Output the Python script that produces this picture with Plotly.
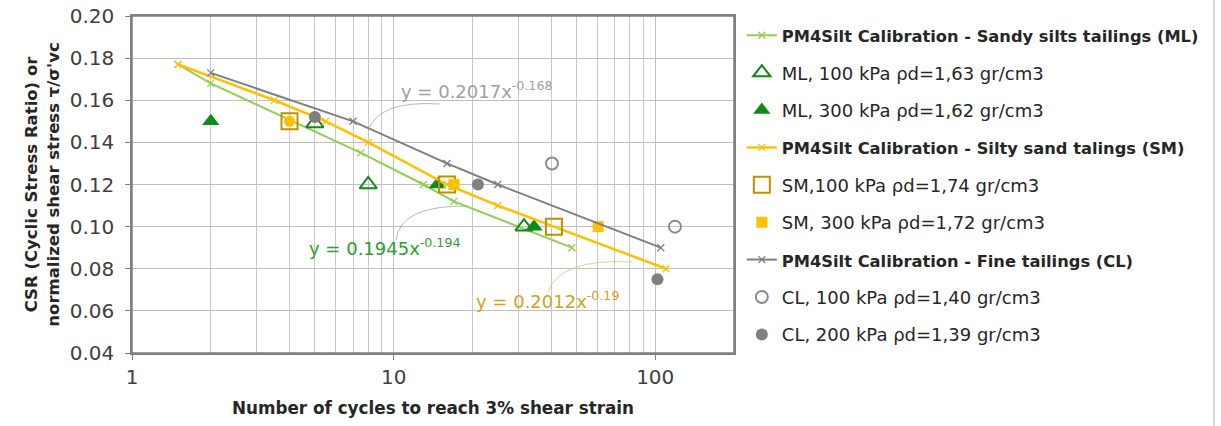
import plotly.graph_objects as go

# ---------------- data ----------------
ml_cal_x = [1.5, 2, 7.5, 13, 17, 48]
ml_cal_y = [0.177, 0.168, 0.135, 0.120, 0.112, 0.090]

sm_cal_x = [1.5, 3.5, 5.5, 8, 16, 25, 110]
sm_cal_y = [0.177, 0.160, 0.150, 0.140, 0.120, 0.110, 0.080]

cl_cal_x = [2, 7, 16, 25, 105]
cl_cal_y = [0.173, 0.150, 0.130, 0.120, 0.090]

ml100_x = [5, 8, 31.5]
ml100_y = [0.149, 0.120, 0.100]

ml300_x = [2, 14.7, 34.4]
ml300_y = [0.150, 0.120, 0.100]

sm100_x = [4, 16, 41]
sm100_y = [0.150, 0.120, 0.100]

sm300_x = [17, 60.5, 4]
sm300_y = [0.120, 0.100, 0.150]
sm300_symbols = ["square", "square", "circle"]

cl100_x = [40.3, 119]
cl100_y = [0.130, 0.100]

cl200_x = [5, 21, 102]
cl200_y = [0.152, 0.120, 0.075]

x_major = [1, 10, 100]
x_minor = [2, 3, 4, 5, 6, 7, 8, 9, 20, 30, 40, 50, 60, 70, 80, 90]
y_ticks = [0.04, 0.06, 0.08, 0.10, 0.12, 0.14, 0.16, 0.18, 0.20]

FONT = "DejaVu Sans"
GREEN_L = "#92D050"
GREEN_D = "#0E8A16"
YEL = "#FFC000"
GOLD = "#BF9000"
GRAY = "#7F7F7F"

fig = go.Figure()

def bold(t):
    return f"<span style='font-size:16.3px'><b>{t}</b></span>"

def add(x, y, name, mode, color, symbol, size, lw=2, mlw=2):
    kw = dict(x=x, y=y, name=name, mode=mode, legendgroup=name)
    if mode == "lines+markers":
        kw["line"] = dict(color=color, width=lw)
        kw["marker"] = dict(symbol=symbol, size=size, color=color, line=dict(color=color, width=1.3))
    else:
        kw["marker"] = dict(symbol=symbol, size=size, color=color, line=dict(color=color, width=mlw))
    fig.add_trace(go.Scatter(**kw))

add(ml_cal_x, ml_cal_y, bold("PM4Silt Calibration - Sandy silts tailings (ML)"), "lines+markers", GREEN_L, "x-thin-open", 7)
add(ml100_x, ml100_y, "ML, 100 kPa ρd=1,63 gr/cm3", "markers", GREEN_D, "triangle-up-open", 15)
add(ml300_x, ml300_y, "ML, 300 kPa ρd=1,62 gr/cm3", "markers", GREEN_D, "triangle-up", 15, mlw=0)
add(sm_cal_x, sm_cal_y, bold("PM4Silt Calibration - Silty sand talings (SM)"), "lines+markers", YEL, "x-thin-open", 7, lw=2.5)
add(sm100_x, sm100_y, "SM,100 kPa ρd=1,74 gr/cm3", "markers", GOLD, "square-open", 16)
fig.add_trace(go.Scatter(x=sm300_x, y=sm300_y, name="SM, 300 kPa ρd=1,72 gr/cm3", mode="markers",
                         legendgroup="sm300",
                         marker=dict(symbol=sm300_symbols, size=11, color=YEL, line=dict(width=0))))
add(cl_cal_x, cl_cal_y, bold("PM4Silt Calibration - Fine tailings (CL)"), "lines+markers", GRAY, "x-thin-open", 7)
add(cl100_x, cl100_y, "CL, 100 kPa ρd=1,40 gr/cm3", "markers", "#8C8C8C", "circle-open", 12)
add(cl200_x, cl200_y, "CL, 200 kPa ρd=1,39 gr/cm3", "markers", "#808080", "circle", 12, mlw=0)

# trendline equation labels
fig.add_annotation(x=1.019, y=0.1648, xref="x", yref="y", xanchor="left", yanchor="middle",
                   text="y = 0.2017x<sup>-0.168</sup>", showarrow=False,
                   font=dict(family=FONT, size=18, color="#A0A0A0"))
fig.add_annotation(x=0.670, y=0.0905, xref="x", yref="y", xanchor="left", yanchor="middle",
                   text="y = 0.1945x<sup>-0.194</sup>", showarrow=False,
                   font=dict(family=FONT, size=18, color="#2E9E2E"))
fig.add_annotation(x=1.307, y=0.0651, xref="x", yref="y", xanchor="left", yanchor="middle",
                   text="y = 0.2012x<sup>-0.19</sup>", showarrow=False,
                   font=dict(family=FONT, size=18, color="#D1A21C"))

# leader lines (decorative, page pixel -> paper space)
L, T, W, H = 132, 16, 602, 337
FW, FH = 1221, 426
def P(px, py):
    return (px - L) / W, (T + H - py) / H
def path(pts):
    (x0, y0), (x1, y1), (x2, y2) = [P(*p) for p in pts]
    return f"M {x0} {y0} Q {x1} {y1} {x2} {y2}"
for pts, col in [
    ([(368, 131), (378, 100), (440, 104)], "#A6A6A6"),
    ([(396, 240), (400, 205), (468, 206)], "#A6A6A6"),
    ([(548, 292), (560, 258), (632, 262)], "#D9C27A"),
]:
    fig.add_shape(type="path", path=path(pts), xref="paper", yref="paper",
                  line=dict(color=col, width=0.8))

# plot-area frame
fig.add_shape(type="rect", xref="paper", yref="paper", x0=0, x1=1, y0=0, y1=1,
              line=dict(color="#808080", width=1.5), fillcolor="rgba(0,0,0,0)", layer="above")

# outer border on right side
bx = P(1214, 0)[0]
fig.add_shape(type="line", xref="paper", yref="paper", x0=bx, x1=bx,
              y0=P(0, FH)[1], y1=P(0, 0)[1], line=dict(color="#C8C8C8", width=1.5))

fig.update_xaxes(type="log", range=[0, 2.30103],
                 tickvals=x_major, ticktext=[str(v) for v in x_major],
                 showgrid=True, gridcolor="#BFBFBF", gridwidth=1,
                 minor=dict(tickvals=x_minor, showgrid=True, gridcolor="#C8C8C8", gridwidth=1, ticks=""),
                 showline=True, linecolor="#808080", linewidth=1.5, mirror=True,
                 ticks="outside", ticklen=5, tickcolor="#808080",
                 tickfont=dict(family=FONT, size=20, color="#404040"),
                 title=dict(text="<b>Number of cycles to reach 3% shear strain</b>",
                            font=dict(family=FONT, size=16.8, color="#262626"), standoff=14),
                 zeroline=False)
fig.update_yaxes(range=[0.04, 0.2], tickvals=y_ticks, ticktext=[f"{v:.2f}" for v in y_ticks],
                 showgrid=True, gridcolor="#BFBFBF", gridwidth=1,
                 showline=True, linecolor="#808080", linewidth=1.5, mirror=True,
                 ticks="outside", ticklen=5, tickcolor="#808080", ticklabelstandoff=7,
                 tickfont=dict(family=FONT, size=20, color="#404040"),
                 title=dict(text="<b>CSR (Cyclic Stress Ratio) or<br>normalized shear stress τ/σ'vc</b>",
                            font=dict(family=FONT, size=16.5, color="#262626"), standoff=6),
                 zeroline=False)

fig.update_layout(width=FW, height=FH,
                  margin=dict(l=L, r=FW - L - W, t=T, b=FH - T - H, autoexpand=False),
                  paper_bgcolor="white", plot_bgcolor="white",
                  font=dict(family=FONT, color="#262626"),
                  showlegend=True,
                  legend=dict(x=1.013, y=0.997, xanchor="left", yanchor="top",
                              font=dict(family=FONT, size=18, color="#262626"),
                              traceorder="grouped", tracegroupgap=11, itemwidth=30,
                              maxheight=420,
                              bgcolor="rgba(0,0,0,0)"))

fig.write_html("out.html", config={"displayModeBar": False},
               post_script="document.body.style.margin='0';")
